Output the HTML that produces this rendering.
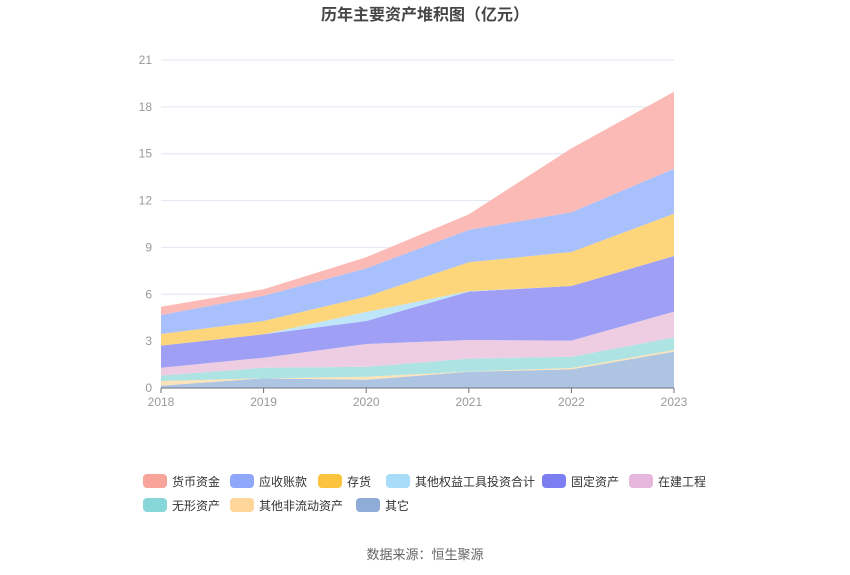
<!DOCTYPE html>
<html><head><meta charset="utf-8"><style>
body{margin:0;background:#fff;font-family:"Liberation Sans","Noto Sans CJK SC",sans-serif;}
#wrap{position:relative;width:850px;height:575px;overflow:hidden;}
</style></head><body>
<div id="wrap">
<svg id="chart" width="850" height="575">
<text x="425" y="20" text-anchor="middle" font-size="16" font-weight="bold" fill="#464646">历年主要资产堆积图（亿元）</text>
<g id="grid"></g><g id="areas"></g><g id="axes"></g><g id="legend"></g>
<text x="425" y="559" text-anchor="middle" font-size="13" fill="#666">数据来源：恒生聚源</text>
</svg>
</div>
<script>
const categories=["2018","2019","2020","2021","2022","2023"];
const seriesNames=["其它","其他非流动资产","无形资产","在建工程","固定资产","其他权益工具投资合计","存货","应收账款","货币资金"];
const sOther=[0.15,0.62,0.53,1.04,1.19,2.33];
const sNonCurrent=[0.30,0,0.19,0.02,0.09,0.10];
const sIntangible=[0.34,0.68,0.64,0.82,0.72,0.81];
const sConstruction=[0.51,0.64,1.46,1.19,1.03,1.65];
const sFixed=[1.41,1.50,1.47,3.10,3.50,3.56];
const sEquityInv=[0,0,0.58,0.03,0,0];
const sInventory=[0.75,0.85,0.98,1.85,2.18,2.71];
const sReceivable=[1.21,1.62,1.81,2.07,2.54,2.88];
const sCash=[0.53,0.41,0.71,1.0,4.09,4.93];
const yTicks=[0,3,6,9,12,15,18,21];
const NS="http://www.w3.org/2000/svg";
const seriesData=[sOther,sNonCurrent,sIntangible,sConstruction,sFixed,sEquityInv,sInventory,sReceivable,sCash];
const fills=["#aec4e3","#fde3b8","#ade3e3","#eecde3","#9fa0f5","#bfe6f8","#fdd57a","#a8c0fc","#fbbab5"];
const x0=161,x1=674,y0=388,y1=60,yMax=21;
const xs=i=>x0+(x1-x0)*i/(categories.length-1);
const ys=v=>y0-(y0-y1)*v/yMax;
function mk(t,a,p){const e=document.createElementNS(NS,t);for(const k in a)e.setAttribute(k,a[k]);p.appendChild(e);return e;}
const grid=document.getElementById('grid'),axes=document.getElementById('axes'),areas=document.getElementById('areas'),leg=document.getElementById('legend');
yTicks.forEach(v=>{
 const l=mk('line',{x1:x0,x2:x1,y1:ys(v),y2:ys(v),stroke:"#e0e6f1"},grid);
 
 
 const t=mk('text',{x:152,y:ys(v)+4,"text-anchor":"end","font-size":12,fill:"#999"},axes);
 t.textContent=v;
 
 
});
let base=categories.map(()=>0);
seriesData.forEach((s,k)=>{
 const top=base.map((b,i)=>b+s[i]);
 let d="";
 top.forEach((v,i)=>{d+=(i?"L":"M")+xs(i)+","+ys(v);});
 for(let i=base.length-1;i>=0;i--)d+="L"+xs(i)+","+ys(base[i]);
 const p=mk('path',{d:d+"Z",fill:fills[k]},areas);
 
 
 base=top;
});
const ax=mk('line',{x1:x0,x2:x1,y1:y0,y2:y0,stroke:"#6e7079"},axes);


categories.forEach((c,i)=>{
 const tk=mk('line',{x1:xs(i),x2:xs(i),y1:y0,y2:y0+5,stroke:"#6e7079"},axes);
 
 
 const t=mk('text',{x:xs(i),y:406,"text-anchor":"middle","font-size":12,fill:"#999"},axes);
 t.textContent=c;
 
 
});
const legItems=[["货币资金","#f9a49b",143,481],["应收账款","#8fa8fb",230,481],["存货","#fcc33f",318,481],["其他权益工具投资合计","#a8dcf9",386,481],["固定资产","#7b7ef0",542,481],["在建工程","#e6b6dd",629,481],["无形资产","#87d7d9",143,505],["其他非流动资产","#fed699",230,505],["其它","#8fabd8",329,505]];
legItems[8][2]=329+27;
legItems.forEach(it=>{
 const g=mk('g',{},leg);
 
 
 mk('rect',{x:it[2],y:it[3]-7,width:24,height:14,rx:4,fill:it[1]},g);
 const t=mk('text',{x:it[2]+29,y:it[3]+5,"font-size":12,fill:"#333"},g);
 t.textContent=it[0];
});
</script>
</body></html>
